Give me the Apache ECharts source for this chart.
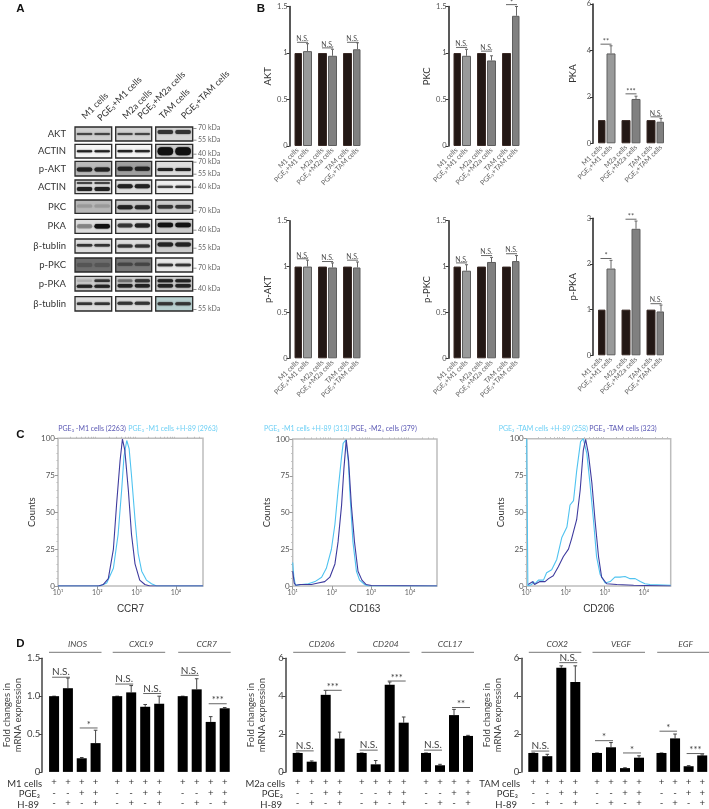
<!DOCTYPE html>
<html><head><meta charset="utf-8">
<style>html,body{margin:0;padding:0;background:#fff}#c{width:709px;height:809px;filter:blur(0.3px)}</style>
<script src="https://cdn.jsdelivr.net/npm/echarts@6/dist/echarts.min.js"></script>
</head><body><div id="c"></div>
<script>
// ---------- Panel B data
const cellLabels = ['M1 cells','PGE₃+M1 cells','M2a cells','PGE₃+M2a cells','TAM cells','PGE₃+TAM cells'];
const aktVals = [1,1.02,1,0.97,1,1.04];
const aktErr  = [1,1.10,1,1.04,1,1.11];
const aktSig  = [[0,2,1.115,'N.S.'],[5,7,1.055,'N.S.'],[10,12,1.115,'N.S.']];
const pkcVals = [1,0.97,1,0.92,1,1.40];
const pkcErr  = [1,1.04,1,0.97,1,1.50];
const pkcSig  = [[0,2,1.06,'N.S.'],[5,7,1.02,'N.S.'],[10,12,1.52,'*']];
const pkaVals = [1,3.87,1,1.91,1,0.93];
const pkaErr  = [1,4.20,1,2.03,1,1.07];
const pkaSig  = [[0,2,4.27,'**'],[5,7,2.13,'***'],[10,12,1.14,'N.S.']];
const pAktVals = [1,1.0,1,0.99,1,0.99];
const pAktErr  = [1,1.07,1,1.04,1,1.05];
const pAktSig  = [[0,2,1.085,'N.S.'],[5,7,1.055,'N.S.'],[10,12,1.07,'N.S.']];
const pPkcVals = [1,0.955,1,1.05,1,1.06];
const pPkcErr  = [1,1.02,1,1.10,1,1.12];
const pPkcSig  = [[0,2,1.04,'N.S.'],[5,7,1.12,'N.S.'],[10,12,1.14,'N.S.']];
const pPkaVals = [1,1.9,1,2.77,1,0.96];
const pPkaErr  = [1,2.08,1,2.94,1,1.10];
const pPkaSig  = [[0,2,2.12,'*'],[5,7,2.98,'**'],[10,12,1.13,'N.S.']];
// ---------- Panel C data: [log10 intensity, counts]
const ccr7Dark = [[1,0],[2.03,0],[2.15,1],[2.28,5],[2.41,25],[2.49,55],[2.58,85],[2.64,99.5],[2.70,92],[2.79,65],[2.87,35],[2.96,15],[3.08,4],[3.21,1],[3.34,0],[4.69,0]];
const ccr7Light = [[1,0],[2.07,0],[2.24,2],[2.41,12],[2.53,35],[2.62,65],[2.68,88],[2.75,98.5],[2.81,93],[2.87,75],[2.96,45],[3.04,22],[3.13,10],[3.25,4],[3.38,1.5],[3.51,0],[4.69,0]];
const cd163Dark = [[1,10],[1.04,2],[1.08,0.5],[1.19,1],[1.31,1],[1.48,1],[1.65,2],[1.82,3],[1.95,6],[2.08,15],[2.16,30],[2.25,55],[2.31,80],[2.37,99.5],[2.43,85],[2.5,55],[2.58,30],[2.67,10],[2.77,4],[2.88,1],[3.01,0.3],[4.69,0]];
const cd163Light = [[1,16],[1.03,6],[1.07,0.5],[1.23,1],[1.4,1.5],[1.57,3],[1.74,6],[1.86,12],[1.99,25],[2.08,42],[2.16,65],[2.25,88],[2.29,97],[2.36,99.5],[2.42,85],[2.47,60],[2.54,30],[2.63,10],[2.71,4],[2.84,1],[2.92,0],[4.69,0]];
const cd206Light = [[1,100],[1.03,0],[1.13,1],[1.17,3],[1.21,1.5],[1.3,4],[1.43,4],[1.51,9],[1.64,11],[1.77,18],[1.9,33],[2.03,40],[2.11,55],[2.2,58],[2.28,78],[2.38,98],[2.45,100],[2.54,90],[2.62,70],[2.71,45],[2.79,20],[2.88,8],[3.01,2],[3.14,3],[3.26,6],[3.39,6],[3.52,6.5],[3.65,5],[3.78,5],[3.91,3],[4.03,1.5],[4.16,1],[4.69,0.5]];
const cd206Dark = [[1.04,1],[1.15,3],[1.2,1],[1.34,3],[1.47,3],[1.56,5],[1.68,7],[1.81,13],[1.94,20],[2.07,25],[2.15,32],[2.28,45],[2.37,65],[2.45,92],[2.51,99.5],[2.58,90],[2.67,70],[2.75,45],[2.84,20],[2.92,6],[3.05,1.5],[3.31,1],[3.74,0.5],[4.69,0]];
const flowTicks = [1,2,3,4];
const flowSup = {1:'10¹',2:'10²',3:'10³',4:'10⁴'};
// ---------- Panel D data
const treatCats = ['+\n-\n-','+\n-\n+','+\n+\n-','+\n+\n+'];
const inosVals=[1,1.105,0.18,0.38],  inosErr=[1,1.24,0.19,0.55],  inosSig=[[0,1,1.25,'N.S.'],[2,3,0.58,'*']];
const cxcl9Vals=[1,1.05,0.86,0.90],  cxcl9Err=[1,1.14,0.89,1.0],  cxcl9Sig=[[0,1,1.16,'N.S.'],[2,3,1.035,'N.S.']];
const ccr7Vals=[1,1.09,0.66,0.84],   ccr7Err=[1,1.23,0.73,0.85],  ccr7Sig=[[0,1,1.275,'N.S.'],[2,3,0.90,'***']];
const cd206Vals=[1,0.54,4.07,1.76],  cd206Err=[1,0.58,4.3,2.1],   cd206Sig=[[0,1,1.11,'N.S.'],[2,3,4.31,'***']];
const cd204Vals=[1,0.4,4.6,2.6],     cd204Err=[1,0.6,4.75,2.9],   cd204Sig=[[0,1,1.15,'N.S.'],[2,3,4.8,'***']];
const ccl17Vals=[1,0.35,3.0,1.9],    ccl17Err=[1,0.4,3.3,1.93],   ccl17Sig=[[0,1,1.15,'N.S.'],[2,3,3.4,'**']];
const cox2Vals=[1,0.83,5.5,4.75],    cox2Err=[1,0.93,5.6,5.6],    cox2Sig=[[0,1,1.1,'N.S.'],[2,3,5.77,'N.S.']];
const vegfVals=[1,1.3,0.2,0.75],     vegfErr=[1,1.55,0.22,0.85],  vegfSig=[[0,1,1.65,'*'],[2,3,1.0,'*']];
const egfVals=[1,1.77,0.3,0.87],     egfErr=[1,2.0,0.33,0.9],     egfSig=[[0,1,2.15,'*'],[2,3,0.97,'***']];
// ---------- Panel A blots: per column [background, [bandFraction, thickness, colour, lane1 opacity, lane2 opacity], ...]
const blotRowNames = ['AKT','ACTIN','p-AKT','ACTIN','PKC','PKA','β-tublin','p-PKC','p-PKA','β-tublin'];
const blotRowSpans = [[127,141],[144.3,158],[161.3,176],[180,193.7],[200,213.3],[219.3,233.3],[239,253],[258,272],[276.3,291],[296.7,311]];
const blotRowCols = [
 [['#cfcfcf',[.5,2,'#444',1,1]],['#d2d2d2',[.5,2,'#444',1,1]],['#d5d5d5',[.35,4,'#333',1,1]]],
 [['#f6f6f6',[.5,2,'#222',1,1]],['#f6f6f6',[.5,2.2,'#222',1,.9]],['#cfcfcf',[.5,8,'#111',1,1]]],
 [['#bbbbbb',[.55,4,'#222',1,1]],['#a0a0a0',[.5,4,'#222',1,1]],['#dddddd',[.55,3,'#222',1,1]]],
 [['#e0e0e0',[.22,2,'#444',1,1],[.65,4,'#222',1,1]],['#dddddd',[.45,4,'#222',1,1]],['#eeeeee',[.5,2.4,'#333',.8,1]]],
 [['#b8b8b8',[.45,3,'#999',1,1]],['#c8c8c8',[.55,4,'#222',1,.9]],['#cccccc',[.5,3.5,'#333',1,1]]],
 [['#dddddd',[.5,4.5,'#111',.25,1]],['#dddddd',[.45,4,'#222',.7,1]],['#cccccc',[.4,4.5,'#111',1,1]]],
 [['#dddddd',[.45,2.5,'#333',1,1]],['#dddddd',[.5,3,'#333',1,1]],['#cccccc',[.4,4,'#222',1,1]]],
 [['#6e6e6e',[.5,4,'#555',1,1]],['#777777',[.45,3,'#444',1,1]],['#e8e8e8',[.5,2.5,'#333',1,1]]],
 [['#cccccc',[.3,2.5,'#333',.1,1],[.68,3,'#222',1,1]],['#cccccc',[.3,3,'#333',.4,1],[.65,3.5,'#222',1,1]],['#cccccc',[.3,3,'#222',1,1],[.65,3.5,'#222',1,1]]],
 [['#dddddd',[.5,2.5,'#333',1,1]],['#dddddd',[.45,3,'#333',1,1]],['#b8d0d0',[.5,3,'#333',1,1]]]
];
const blotColSpans = [[75,111.7],[115.7,151.7],[155.7,192.7]];
const blotKda = [['70 kDa',128],['55 kDa',139.7],['40 kDa',153.7],['70 kDa',161.7],['55 kDa',173.7],['40 kDa',186.7],['70 kDa',210.3],['40 kDa',229.7],['55 kDa',247.7],['70 kDa',267.7],['40 kDa',289],['55 kDa',309]];
const blotHeaderStarts = [[83.3,117.5],[99,119.5],[124,117.5],[139.3,117.5],[161,117.5],[182.7,117.5]];

// ---------- builders
const FONT = 'Lato, "Noto Sans", sans-serif';
const option = {animation:false,backgroundColor:'#fff',textStyle:{fontFamily:FONT},grid:[],xAxis:[],yAxis:[],series:[],graphic:{elements:[]}};
const g = option.graphic.elements;
function gText(text,x,y,o={}){g.push({type:'text',x,y,rotation:o.rot||0,silent:true,style:{text,x:0,y:0,fill:o.color||'#333',font:(o.weight||'normal')+' '+(o.style||'')+' '+(o.size||9)+'px '+(o.family||FONT),textAlign:o.align||'left',textVerticalAlign:'middle'}});}
function gLine(x1,y1,x2,y2,color,w){g.push({type:'line',silent:true,shape:{x1,y1,x2,y2},style:{stroke:color,lineWidth:w||1}});}

function errSeries(xi,yi,pairs,capW,color){
  return {type:'custom',xAxisIndex:xi,yAxisIndex:yi,silent:true,z:1,clip:false,data:pairs,encode:{x:0,y:[1,2]},
    renderItem(p,api){const a=api.coord([api.value(0),api.value(1)]),b=api.coord([api.value(0),api.value(2)]);
      return {type:'group',children:[
        {type:'line',shape:{x1:a[0],y1:a[1],x2:b[0],y2:b[1]},style:{stroke:color,lineWidth:1}},
        {type:'line',shape:{x1:b[0]-capW,y1:b[1],x2:b[0]+capW,y2:b[1]},style:{stroke:color,lineWidth:1}}]};}};
}
function sigSeries(xi,yi,sig,fs,starFs,ext,color){
  return {type:'custom',xAxisIndex:xi,yAxisIndex:yi,silent:true,z:5,clip:false,data:sig.map(s=>[s[0],s[1],s[2]]),encode:{x:[0,1],y:2},
    renderItem(p,api){const s=sig[p.dataIndex];const a=api.coord([s[0],s[2]]),b=api.coord([s[1],s[2]]);
      const star=s[3][0]==='*';
      return {type:'group',children:[
        {type:'line',shape:{x1:a[0]-ext,y1:a[1],x2:b[0]+ext,y2:a[1]},style:{stroke:'#666',lineWidth:1}},
        {type:'text',style:{text:s[3],x:(a[0]+b[0])/2,y:a[1]+(star?1.5:0),fill:color,font:(star?starFs:fs)+'px '+FONT,textAlign:'center',textVerticalAlign:'bottom'}}]};}};
}
function barPanel(name,left,top,h,ymax,itv,vals,err,sig){
  const i=option.grid.length, xi=option.xAxis.length, yi=option.yAxis.length, slots=[0,2,5,7,10,12];
  option.grid.push({left,top,width:65,height:h,containLabel:false});
  const cats=Array(13).fill(''); slots.forEach((s,k)=>cats[s]=cellLabels[k]);
  option.xAxis.push({type:'category',gridIndex:i,data:cats,axisLine:{show:false},axisTick:{show:false},
    axisLabel:{interval:0,rotate:45,fontSize:7,color:'#666',margin:3}});
  option.yAxis.push({type:'value',gridIndex:i,min:0,max:ymax,interval:itv,offset:5.5,splitLine:{show:false},
    axisLine:{show:true,lineStyle:{color:'#222',width:1.5}},axisTick:{show:true,length:3,lineStyle:{color:'#333'}},
    axisLabel:{fontSize:7.5,color:'#555',margin:2,formatter:v=>String(v)},
    name,nameLocation:'middle',nameGap:15,nameTextStyle:{fontSize:9.5,color:'#333'}});
  const fills=['#231815','#999a9a','#231815','#808080','#231815','#808080'];
  option.series.push({type:'bar',xAxisIndex:xi,yAxisIndex:yi,barWidth:9,z:2,silent:true,
    data:slots.map((s,k)=>({value:[s,vals[k]],itemStyle:{color:fills[k],borderColor:k%2?'#5e5e5e':'#3a2a26',borderWidth:1}}))});
  const ep=[];slots.forEach((s,k)=>{if(k%2)ep.push([s,vals[k],err[k]]);});
  option.series.push(errSeries(xi,yi,ep,1.5,'#666'));
  option.series.push(sigSeries(xi,yi,sig,7,7.5,0.5,'#555'));
}
function flowPanel(name,left,right,top,bottom,light,dark,nameGapY){
  const i=option.grid.length, xi=option.xAxis.length, yi=option.yAxis.length;
  option.grid.push({left,top,width:right-left,height:bottom-top,show:true,borderColor:'#bdbdbd',borderWidth:1.5,backgroundColor:'transparent'});
  option.xAxis.push({type:'value',gridIndex:i,min:1,max:4.69,splitLine:{show:false},axisLine:{show:false},
    axisTick:{show:true,length:3,lineStyle:{color:'#999'},customValues:flowTicks},
    axisLabel:{color:'#666',fontSize:7,margin:3,customValues:flowTicks,formatter:v=>flowSup[v]||'',showMinLabel:true},
    name,nameLocation:'middle',nameGap:18,nameTextStyle:{fontSize:10,color:'#333',fontFamily:'"Liberation Sans",sans-serif'}});
  option.yAxis.push({type:'value',gridIndex:i,min:0,max:100,interval:25,splitLine:{show:false},axisLine:{show:false},
    axisTick:{show:true,length:3,lineStyle:{color:'#999'}},minorTick:{show:true,splitNumber:5,length:1.5,lineStyle:{color:'#bbb'}},
    axisLabel:{fontSize:8,color:'#555',margin:3},
    name:'Counts',nameLocation:'middle',nameGap:nameGapY,nameTextStyle:{fontSize:9.5,color:'#333'}});
  const mk=(d,c)=>({type:'line',xAxisIndex:xi,yAxisIndex:yi,data:d,showSymbol:false,symbol:'none',silent:true,lineStyle:{color:c,width:1.1},clip:true});
  option.series.push(mk(light,'#4fc3f0'),mk(dark,'#3e3b9e'));
  // log-spaced minor ticks on an overlaid copy of the x axis
  const minor=[];for(let n=1;n<=4;n++)for(let k=2;k<=9;k++){const v=n+Math.log10(k);if(v<4.69)minor.push(v);}
  option.xAxis.push({type:'value',gridIndex:i,min:1,max:4.69,splitLine:{show:false},axisLine:{show:false},
    axisTick:{show:true,length:1.5,lineStyle:{color:'#bbb'},customValues:minor},axisLabel:{show:false}});
}
function genePanel(gene,left,ymax,itv,vals,err,sig,yName,yGap){
  const i=option.grid.length, xi=option.xAxis.length, yi=option.yAxis.length, top=658.3, h=115.4;
  option.grid.push({left,top,width:56,height:h});
  option.xAxis.push({type:'category',gridIndex:i,data:treatCats,axisLine:{show:false},axisTick:{show:false},
    axisLabel:{interval:0,fontSize:9.5,color:'#333',lineHeight:10.7,margin:5,fontFamily:'"Liberation Sans",sans-serif'}});
  option.yAxis.push(Object.assign({type:'value',gridIndex:i,min:0,max:ymax,interval:itv,offset:5,splitLine:{show:false}},
    yName?{axisLine:{show:true,lineStyle:{color:'#444',width:1.5}},axisTick:{show:true,length:3.5,lineStyle:{color:'#444',width:1}},
      axisLabel:{fontSize:9.5,color:'#444',margin:2,formatter:v=>(ymax===1.5&&v?v.toFixed(1):String(v))},
      name:yName,nameLocation:'middle',nameGap:yGap,nameTextStyle:{fontSize:9.5,color:'#444',lineHeight:11}}
     :{axisLine:{show:false},axisTick:{show:false},axisLabel:{show:false}}));
  option.series.push({type:'bar',xAxisIndex:xi,yAxisIndex:yi,barWidth:10,z:2,silent:true,data:vals,itemStyle:{color:'#000'}});
  option.series.push(errSeries(xi,yi,err.map((e,k)=>[k,vals[k],e]),1.8,'#444'));
  option.series.push(sigSeries(xi,yi,sig,10,9.5,2,'#444'));
  gLine(left+2.5,652.3,left+55,652.3,'#777',1);
  gText(gene,left+31,644,{style:'italic',size:8.5,color:'#444',align:'center'});
}
// ---------- Panel B
barPanel('AKT',295,6.5,139.5,1.5,0.5,aktVals,aktErr,aktSig);
barPanel('PKC',454,6.5,139.5,1.5,0.5,pkcVals,pkcErr,pkcSig);
barPanel('PKA',598.5,3.3,140,6,2,pkaVals,pkaErr,pkaSig);
barPanel('p-AKT',295,220.7,137.6,1.5,0.5,pAktVals,pAktErr,pAktSig);
barPanel('p-PKC',454,220.7,137.6,1.5,0.5,pPkcVals,pPkcErr,pPkcSig);
barPanel('p-PKA',598.5,218.3,137,3,1,pPkaVals,pPkaErr,pPkaSig);
// ---------- Panel C
flowPanel('CCR7',58,203,438.3,586,ccr7Light,ccr7Dark,18);
flowPanel('CD163',292.7,437,439,586,cd163Light,cd163Dark,18);
flowPanel('CD206',526.7,670.7,438.7,586,cd206Light,cd206Dark,18);
gText('PGE₃ -M1 cells (2263)',58.3,429,{size:7,color:'#5a58b4'});
gText('PGE₃ -M1 cells +H-89 (2963)',128.3,429,{size:7,color:'#6fd0f5'});
gText('PGE₃ -M1 cells +H-89 (313)',264,429,{size:7,color:'#6fd0f5'});
gText('PGE₃ -M2₁ cells (379)',351,429,{size:7,color:'#5a58b4'});
gText('PGE₃ -TAM cells +H-89 (258)',498.7,429,{size:7,color:'#6fd0f5'});
gText('PGE₃ -TAM cells (323)',589.3,429,{size:7,color:'#5a58b4'});
// ---------- Panel D
const foldName='Fold changes in\nmRNA expression';
genePanel('INOS',46.5,1.5,0.5,inosVals,inosErr,inosSig,foldName,18);
genePanel('CXCL9',110.2,1.5,0.5,cxcl9Vals,cxcl9Err,cxcl9Sig);
genePanel('CCR7',175.7,1.5,0.5,ccr7Vals,ccr7Err,ccr7Sig);
genePanel('CD206',290.7,6,2,cd206Vals,cd206Err,cd206Sig,foldName,18);
genePanel('CD204',354.7,6,2,cd204Vals,cd204Err,cd204Sig);
genePanel('CCL17',419,6,2,ccl17Vals,ccl17Err,ccl17Sig);
genePanel('COX2',526.3,6,2,cox2Vals,cox2Err,cox2Sig,foldName,18);
genePanel('VEGF',590,6,2,vegfVals,vegfErr,vegfSig);
genePanel('EGF',654.7,6,2,egfVals,egfErr,egfSig);
[['M1 cells',42,40,39],['M2a cells',285,283,282],['TAM cells',520,518,517]].forEach(r=>{
  gText(r[0],r[1],783.7,{size:9.5,align:'right',color:'#333'});
  gText('PGE₃',r[2],794.4,{size:9.5,align:'right',color:'#333'});
  gText('H-89',r[3],805,{size:9.5,align:'right',color:'#333'});
});
// ---------- Panel A
blotRowNames.forEach((nm,r)=>{
  const [y0,y1]=blotRowSpans[r];
  gText(nm,66,(y0+y1)/2,{size:9.5,align:'right',color:'#333'});
  blotColSpans.forEach((c,ci)=>{
    const spec=blotRowCols[r][ci], w=c[1]-c[0], hh=y1-y0;
    g.push({type:'rect',silent:true,shape:{x:c[0],y:y0,width:w,height:hh},style:{fill:spec[0],stroke:'#2a2a2a',lineWidth:1.3}});
    spec.slice(1).forEach(b=>{
      [[.05,.47,b[3]],[.53,.95,b[4]]].forEach(l=>{
        g.push({type:'rect',silent:true,shape:{x:c[0]+w*l[0],y:y0+hh*b[0]-b[1]/2,width:w*(l[1]-l[0]),height:b[1],r:b[1]/2},
          style:{fill:b[2],opacity:l[2],shadowBlur:1.5,shadowColor:b[2]}});
      });
    });
  });
});
blotKda.forEach(k=>{gLine(193,k[1]+0.5,196.5,k[1]+0.5,'#777',0.8);gText(k[0],198,k[1],{size:7,color:'#666'});});
cellLabels.forEach((t,k)=>gText(t,blotHeaderStarts[k][0],blotHeaderStarts[k][1],{size:9,rot:Math.PI/4,color:'#333'}));
// ---------- Panel letters
[['A',20.5,8.5],['B',261,8.5],['C',20.5,434.5],['D',20.5,643.5]].forEach(l=>gText(l[0],l[1],l[2],{size:11.5,weight:'bold',color:'#111',align:'center',family:'"Liberation Sans",sans-serif'}));

const chart=echarts.init(document.getElementById('c'),null,{renderer:'canvas'});
chart.setOption(option);
</script></body></html>
